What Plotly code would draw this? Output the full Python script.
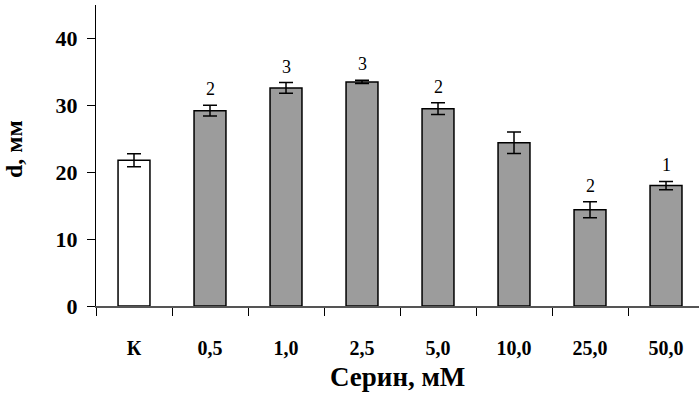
import plotly.graph_objects as go

categories = ["К", "0,5", "1,0", "2,5", "5,0", "10,0", "25,0", "50,0"]
values = [21.8, 29.2, 32.6, 33.5, 29.5, 24.4, 14.4, 18.0]
errors = [0.97, 0.8, 0.8, 0.25, 0.87, 1.6, 1.2, 0.62]
labels = ["", "2", "3", "3", "2", "", "2", "1"]
fill_colors = ["#ffffff"] + ["#9c9c9c"] * 7

FONT = "Liberation Serif"

fig = go.Figure()
fig.add_trace(go.Bar(
    x=categories, y=values,
    width=0.42,
    marker=dict(color=fill_colors, line=dict(color="#000000", width=1.5)),
    error_y=dict(type="data", array=errors, visible=True,
                 color="#000000", thickness=1.5, width=7),
    hoverinfo="skip",
))

for c, v, e, t in zip(categories, values, errors, labels):
    if t:
        fig.add_annotation(x=c, y=v + e, text=t, showarrow=False,
                           yanchor="bottom", yshift=4,
                           font=dict(family=FONT, size=18, color="#000"))

# axis titles as annotations for precise placement
fig.add_annotation(xref="paper", yref="paper", x=0.5, y=-0.235,
                   text="<b>Серин, мМ</b>", showarrow=False,
                   xanchor="center", yanchor="middle",
                   font=dict(family=FONT, size=27, color="#000"))
fig.add_annotation(xref="paper", yref="paper", x=-0.135, y=0.52,
                   text="<b>d, мм</b>", showarrow=False, textangle=-90,
                   xanchor="center", yanchor="middle",
                   font=dict(family=FONT, size=24, color="#000"))

fig.update_layout(
    width=699, height=394,
    margin=dict(l=96, r=0, t=5, b=88),
    paper_bgcolor="white", plot_bgcolor="white",
    showlegend=False,
    font=dict(family=FONT, color="#000"),
    xaxis=dict(
        type="category", range=[-0.5, 7.434],
        showline=True, linecolor="#555555", linewidth=1.5,
        ticks="outside", tickson="boundaries", ticklen=8, tickcolor="#000",
        tickwidth=1,
        tickfont=dict(family=FONT, size=20, color="#000", weight="bold"),
        ticklabelstandoff=23,
        showgrid=False, zeroline=False,
    ),
    yaxis=dict(
        range=[0, 45], tickvals=[0, 10, 20, 30, 40],
        showline=True, linecolor="#000", linewidth=1.2,
        ticks="outside", ticklen=8, tickcolor="#000", tickwidth=1,
        tickfont=dict(family=FONT, size=22, color="#000", weight="bold"),
        ticklabelstandoff=5,
        showgrid=False, zeroline=False,
    ),
)

fig.write_html("out.html")
